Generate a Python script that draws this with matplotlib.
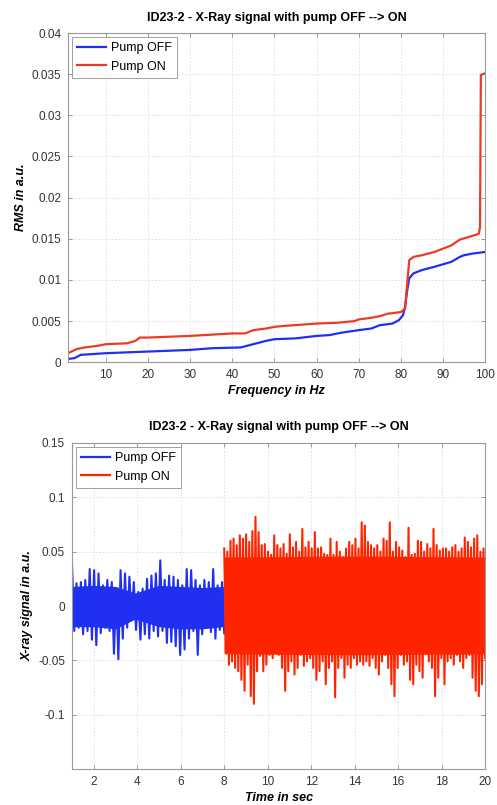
import numpy as np
import matplotlib
matplotlib.use("Agg")
import matplotlib.pyplot as plt
from matplotlib.ticker import FuncFormatter

plt.rcParams["font.family"] = ["Liberation Sans", "DejaVu Sans"]

TITLE = "ID23-2 - X-Ray signal with pump OFF --> ON"
BLUE = "#1f30f0"
RED = "#ff2400"
RED_TOP = "#ec3a26"

# cumulative RMS vs frequency
freq_off = [1, 2.5, 4, 10, 20, 30, 35, 42, 45, 48, 50, 55, 60, 63, 66, 70, 73, 75, 78,
            79.5, 80.5, 81, 81.5, 82, 83, 85, 88, 90, 92, 94, 95, 97, 100]
rms_off = [0.0004, 0.0005, 0.0009, 0.0011, 0.0013, 0.0015, 0.0017, 0.0018, 0.0022, 0.0026,
           0.0028, 0.0029, 0.0032, 0.0033, 0.0036, 0.0039, 0.0041, 0.0045, 0.0047,
           0.0051, 0.0057, 0.0067, 0.0087, 0.0102, 0.0108, 0.0112, 0.0116, 0.0119, 0.0122,
           0.0128, 0.0130, 0.0132, 0.0134]
freq_on = [1, 3, 5, 8, 10, 15, 17, 18, 20, 30, 40, 43, 45, 48, 50, 52, 60, 65, 69, 70, 73,
           75, 77, 80, 81, 81.5, 82, 83, 85, 88, 90, 92, 94, 96, 98.5, 98.8, 99, 100]
rms_on = [0.0011, 0.0016, 0.0018, 0.0020, 0.0022, 0.0023, 0.0026, 0.0030, 0.0030, 0.0032,
          0.0035, 0.0035, 0.0039, 0.0041, 0.0043, 0.0044, 0.0047, 0.0048, 0.0050, 0.0052,
          0.0054, 0.0056, 0.0059, 0.0061, 0.0065, 0.0095, 0.0124, 0.0128, 0.0130, 0.0134,
          0.0138, 0.0142, 0.0149, 0.0152, 0.0156, 0.0164, 0.0349, 0.0351]

# time signal, alternating peaks and troughs
off_peaks = [0.037, 0.021, 0.022, 0.024, 0.034, 0.033, 0.030, 0.019, 0.024, 0.022, 0.016,
             0.033, 0.030, 0.027, 0.022, 0.013, 0.016, 0.025, 0.028, 0.030, 0.042, 0.024,
             0.028, 0.027, 0.024, 0.019, 0.034, 0.033, 0.024, 0.019, 0.024, 0.022, 0.034,
             0.019, 0.022]
off_troughs = [-0.023, -0.020, -0.026, -0.023, -0.031, -0.036, -0.025, -0.020, -0.023,
               -0.044, -0.049, -0.030, -0.020, -0.011, -0.022, -0.031, -0.026, -0.030,
               -0.023, -0.028, -0.023, -0.034, -0.033, -0.037, -0.045, -0.040, -0.030,
               -0.023, -0.045, -0.026, -0.020, -0.024, -0.030, -0.022, -0.025]
on_peaks = [0.053, 0.050, 0.060, 0.062, 0.056, 0.065, 0.062, 0.066, 0.059, 0.069, 0.082,
            0.068, 0.056, 0.057, 0.050, 0.047, 0.065, 0.056, 0.053, 0.057, 0.048, 0.066,
            0.054, 0.059, 0.050, 0.071, 0.054, 0.059, 0.053, 0.068, 0.053, 0.054, 0.048,
            0.047, 0.062, 0.047, 0.059, 0.050, 0.045, 0.053, 0.059, 0.056, 0.062, 0.053,
            0.077, 0.074, 0.059, 0.056, 0.053, 0.056, 0.050, 0.062, 0.060, 0.077, 0.050,
            0.059, 0.054, 0.051, 0.045, 0.072, 0.047, 0.048, 0.060, 0.059, 0.050, 0.057,
            0.053, 0.071, 0.056, 0.051, 0.053, 0.053, 0.050, 0.054, 0.056, 0.050, 0.053,
            0.063, 0.059, 0.054, 0.062, 0.065, 0.050, 0.053]
on_troughs = [-0.043, -0.054, -0.051, -0.057, -0.060, -0.068, -0.078, -0.054, -0.083,
              -0.090, -0.060, -0.046, -0.060, -0.054, -0.045, -0.048, -0.043, -0.045,
              -0.057, -0.078, -0.060, -0.051, -0.063, -0.057, -0.045, -0.055, -0.051,
              -0.048, -0.057, -0.068, -0.060, -0.051, -0.072, -0.057, -0.051, -0.084,
              -0.057, -0.048, -0.066, -0.054, -0.057, -0.048, -0.054, -0.051,
              -0.054, -0.051, -0.055, -0.048, -0.057, -0.063, -0.051, -0.045, -0.057,
              -0.072, -0.083, -0.057, -0.045, -0.054, -0.051, -0.068, -0.072, -0.054,
              -0.060, -0.066, -0.042, -0.051, -0.057, -0.083, -0.066, -0.048, -0.072,
              -0.051, -0.048, -0.054, -0.045, -0.051, -0.057, -0.048, -0.045, -0.066,
              -0.078, -0.083, -0.072, -0.048]

# solid core of the dense signal (where the trace fills completely)
off_core_t = [1, 2, 3, 3.9, 5, 6, 7, 8]
off_core_hi = [0.018, 0.019, 0.018, 0.012, 0.019, 0.018, 0.017, 0.018]
off_core_lo = [-0.019, -0.019, -0.021, -0.012, -0.019, -0.021, -0.021, -0.019]
on_core_t = [8, 14, 20]
on_core_hi = [0.045, 0.046, 0.045]
on_core_lo = [-0.044, -0.045, -0.044]

freq_ticks = [10, 20, 30, 40, 50, 60, 70, 80, 90, 100]
rms_ticks = [0, 0.005, 0.01, 0.015, 0.02, 0.025, 0.03, 0.035, 0.04]
time_ticks = [2, 4, 6, 8, 10, 12, 14, 16, 18, 20]
sig_ticks = [-0.1, -0.05, 0, 0.05, 0.1, 0.15]


def _style(ax):
    ax.grid(True, color="#dcdcdc", linestyle=(0, (2, 2)), linewidth=0.6)
    ax.set_axisbelow(True)
    for s in ax.spines.values():
        s.set_color("#999999")
        s.set_linewidth(0.8)
    ax.tick_params(direction="in", top=True, right=True, length=3, width=0.6,
                   color="#888888", labelsize=8.5, labelcolor="#333333", pad=5)
    ax.yaxis.set_major_formatter(FuncFormatter(lambda v, p: f"{v:g}"))


def _legend(ax):
    leg = ax.legend(loc="upper left", fontsize=9, handlelength=2.3, frameon=True,
                    fancybox=False, borderaxespad=0.3, handletextpad=0.35,
                    labelspacing=0.5, borderpad=0.45)
    leg.get_frame().set_edgecolor("#888888")
    leg.get_frame().set_linewidth(0.7)
    for line in leg.get_lines():
        line.set_linewidth(1.6)


fig = plt.figure(figsize=(4.97, 8.05), dpi=100)

ax1 = fig.add_axes([0.137, 0.550, 0.839, 0.409])
ax1.plot(freq_off, rms_off, color=BLUE, linewidth=1.6, label="Pump OFF")
ax1.plot(freq_on, rms_on, color=RED_TOP, linewidth=1.6, label="Pump ON")
ax1.set_xlim(1, 100)
ax1.set_ylim(0, 0.04)
ax1.set_xticks(freq_ticks)
ax1.set_yticks(rms_ticks)
_style(ax1)
ax1.set_title(TITLE, fontsize=9, fontweight="bold", pad=9)
ax1.set_xlabel("Frequency in Hz", fontsize=9, fontweight="bold", style="italic", labelpad=3)
ax1.set_ylabel("RMS in a.u.", fontsize=9, fontweight="bold", style="italic", labelpad=3)
_legend(ax1)

# interleave peaks and troughs into one signal per section
off_sig = np.ravel(np.column_stack([off_peaks, off_troughs]))
on_sig = np.ravel(np.column_stack([on_peaks, on_troughs]))
t_off = np.linspace(1, 8, len(off_sig))
t_on = np.linspace(8, 20, len(on_sig))

ax2 = fig.add_axes([0.145, 0.0447, 0.831, 0.405])
ax2.fill_between(off_core_t, off_core_lo, off_core_hi, color=BLUE, linewidth=0)
ax2.plot(t_off, off_sig, color=BLUE, linewidth=1.5, label="Pump OFF")
ax2.fill_between(on_core_t, on_core_lo, on_core_hi, color=RED, linewidth=0)
ax2.plot(t_on, on_sig, color=RED, linewidth=1.5, label="Pump ON")
ax2.set_xlim(1, 20)
ax2.set_ylim(-0.15, 0.15)
ax2.set_xticks(time_ticks)
ax2.set_yticks(sig_ticks)
_style(ax2)
ax2.set_title(TITLE, fontsize=9, fontweight="bold", pad=9)
ax2.set_xlabel("Time in sec", fontsize=9, fontweight="bold", style="italic", labelpad=3)
ax2.set_ylabel("X-ray signal in a.u.", fontsize=9, fontweight="bold", style="italic", labelpad=3)
_legend(ax2)

plt.savefig("out.png", dpi=100)
